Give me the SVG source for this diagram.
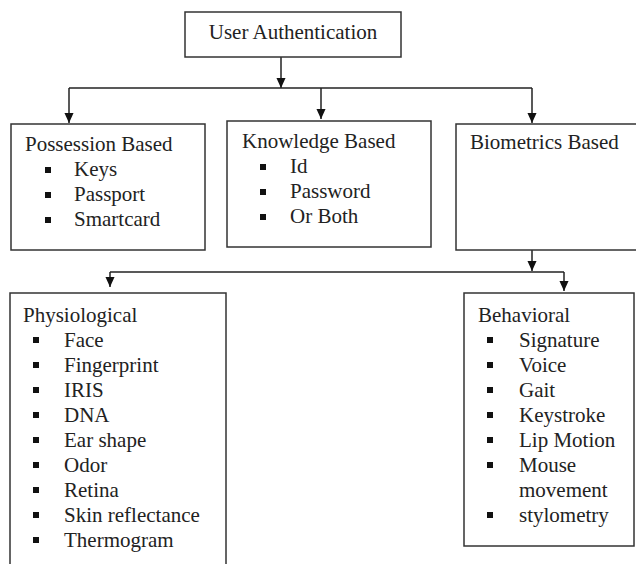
<svg xmlns="http://www.w3.org/2000/svg" width="636" height="564" viewBox="0 0 636 564">
<defs>
<style>
.box{fill:#fff;stroke:#333;stroke-width:1.5}
.t{font-size:21px;fill:#222}
.c{fill:none;stroke:#222;stroke-width:1.5}
.b{fill:#111}
</style>
<marker id="ah" markerUnits="userSpaceOnUse" markerWidth="10" markerHeight="11" refX="11" refY="5" orient="auto" viewBox="0 0 11 10">
<path d="M0,0 L11,5 L0,10 z" fill="#111"/>
</marker>
</defs>
<rect width="636" height="564" fill="#fff"/>
<g id="connectors">
<line class="c" x1="281" y1="57" x2="281" y2="88" marker-end="url(#ah)"/>
<line class="c" x1="69" y1="88" x2="532" y2="88"/>
<line class="c" x1="69" y1="88" x2="69" y2="123" marker-end="url(#ah)"/>
<line class="c" x1="321" y1="88" x2="321" y2="119" marker-end="url(#ah)"/>
<line class="c" x1="532" y1="88" x2="532" y2="123" marker-end="url(#ah)"/>
<line class="c" x1="532" y1="250" x2="532" y2="271" marker-end="url(#ah)"/>
<line class="c" x1="110" y1="272" x2="564" y2="272"/>
<line class="c" x1="110" y1="272" x2="110" y2="287" marker-end="url(#ah)"/>
<line class="c" x1="564" y1="272" x2="564" y2="291" marker-end="url(#ah)"/>
</g>
<g font-family="Liberation Serif, serif">
<g id="user-authentication">
<rect class="box" x="185" y="12" width="216" height="45"/>
<text class="t" x="293" y="39" text-anchor="middle" font-size="22">User Authentication</text>
</g>
<g id="possession">
<rect class="box" x="11" y="124" width="194" height="126"/>
<text class="t" x="25" y="151">Possession Based</text>
<rect class="b" x="45" y="167" width="6" height="6"/>
<rect class="b" x="45" y="192" width="6" height="6"/>
<rect class="b" x="45" y="217" width="6" height="6"/>
<text class="t" x="74" y="176">Keys</text>
<text class="t" x="74" y="201">Passport</text>
<text class="t" x="74" y="226">Smartcard</text>
</g>
<g id="knowledge">
<rect class="box" x="227" y="121" width="204" height="126"/>
<text class="t" x="242" y="148">Knowledge Based</text>
<rect class="b" x="260" y="164" width="6" height="6"/>
<rect class="b" x="260" y="189" width="6" height="6"/>
<rect class="b" x="260" y="214" width="6" height="6"/>
<text class="t" x="290" y="173">Id</text>
<text class="t" x="290" y="198">Password</text>
<text class="t" x="290" y="223">Or Both</text>
</g>
<g id="biometrics">
<rect class="box" x="456" y="124" width="190" height="126"/>
<text class="t" x="470" y="149">Biometrics Based</text>
</g>
<g id="physiological">
<rect class="box" x="10" y="293" width="216" height="280"/>
<text class="t" x="23" y="322">Physiological</text>
<rect class="b" x="33" y="337" width="6" height="6"/>
<rect class="b" x="33" y="362" width="6" height="6"/>
<rect class="b" x="33" y="387" width="6" height="6"/>
<rect class="b" x="33" y="412" width="6" height="6"/>
<rect class="b" x="33" y="437" width="6" height="6"/>
<rect class="b" x="33" y="462" width="6" height="6"/>
<rect class="b" x="33" y="487" width="6" height="6"/>
<rect class="b" x="33" y="512" width="6" height="6"/>
<rect class="b" x="33" y="537" width="6" height="6"/>
<text class="t" x="64" y="347">Face</text>
<text class="t" x="64" y="372">Fingerprint</text>
<text class="t" x="64" y="397">IRIS</text>
<text class="t" x="64" y="422">DNA</text>
<text class="t" x="64" y="447">Ear shape</text>
<text class="t" x="64" y="472">Odor</text>
<text class="t" x="64" y="497">Retina</text>
<text class="t" x="64" y="522">Skin reflectance</text>
<text class="t" x="64" y="547">Thermogram</text>
</g>
<g id="behavioral">
<rect class="box" x="464" y="293" width="170" height="253"/>
<text class="t" x="478" y="322">Behavioral</text>
<rect class="b" x="487" y="337" width="6" height="6"/>
<rect class="b" x="487" y="362" width="6" height="6"/>
<rect class="b" x="487" y="387" width="6" height="6"/>
<rect class="b" x="487" y="412" width="6" height="6"/>
<rect class="b" x="487" y="437" width="6" height="6"/>
<rect class="b" x="487" y="462" width="6" height="6"/>
<rect class="b" x="487" y="512" width="6" height="6"/>
<text class="t" x="519" y="347">Signature</text>
<text class="t" x="519" y="372">Voice</text>
<text class="t" x="519" y="397">Gait</text>
<text class="t" x="519" y="422">Keystroke</text>
<text class="t" x="519" y="447">Lip Motion</text>
<text class="t" x="519" y="472">Mouse</text>
<text class="t" x="519" y="497">movement</text>
<text class="t" x="519" y="522">stylometry</text>
</g>
</g>
</svg>
